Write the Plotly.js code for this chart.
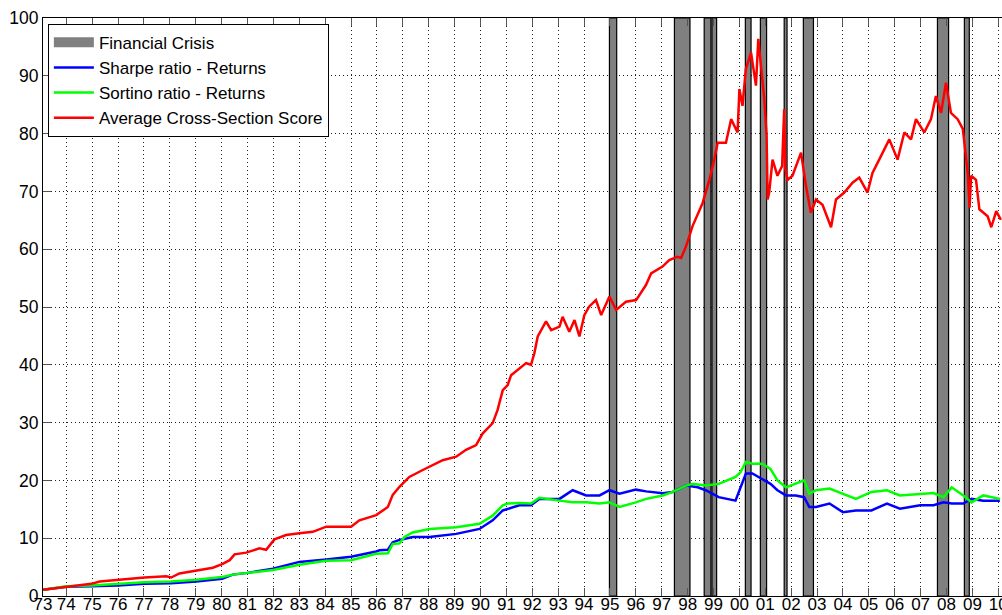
<!DOCTYPE html>
<html>
<head>
<meta charset="utf-8">
<script src="https://cdn.plot.ly/plotly-3.0.1.min.js"></script>
<style>
html,body{margin:0;padding:0;overflow:hidden;background:#fff;}
#chart{width:1039px;height:615px;}
</style>
</head>
<body>
<div id="chart"></div>
<script>
// Crisis periods (fractional years)
const crisisStart = [1994.98, 1997.49, 1998.64, 1998.94, 2000.23, 2000.81, 2001.73, 2002.47, 2007.65, 2008.69];
const crisisEnd   = [1995.26, 1998.09, 1998.90, 1999.12, 2000.45, 2001.05, 2001.84, 2002.86, 2008.08, 2008.88];

// Average Cross-Section Score (red)
const redYears = [1973.10,1974.00,1974.97,1975.29,1975.99,1977.02,1977.86,1978.05,1978.37,1979.02,1979.66,1980.02,1980.31,1980.50,1980.95,1981.46,1981.72,1982.04,1982.49,1983.00,1983.52,1984.04,1985.00,1985.32,1985.97,1986.42,1986.61,1986.87,1987.25,1987.77,1988.03,1988.54,1989.06,1989.44,1989.83,1990.08,1990.47,1990.66,1990.86,1991.05,1991.18,1991.50,1991.76,1991.95,1992.08,1992.21,1992.53,1992.73,1993.05,1993.17,1993.43,1993.63,1993.82,1994.01,1994.20,1994.46,1994.66,1994.98,1995.24,1995.62,1996.01,1996.39,1996.59,1997.03,1997.29,1997.61,1997.75,1997.94,1998.19,1998.58,1998.84,1999.03,1999.16,1999.48,1999.68,1999.93,2000.00,2000.12,2000.25,2000.45,2000.64,2000.73,2000.83,2000.96,2001.05,2001.09,2001.15,2001.28,2001.47,2001.65,2001.73,2001.77,2001.86,2002.05,2002.38,2002.57,2002.76,2002.96,2003.21,2003.54,2003.73,2004.05,2004.37,2004.63,2004.95,2005.14,2005.40,2005.79,2006.11,2006.37,2006.63,2006.82,2007.14,2007.40,2007.59,2007.79,2007.98,2008.17,2008.43,2008.63,2008.82,2008.89,2008.95,2009.14,2009.27,2009.59,2009.73,2009.92,2010.10];
const redValues = [1.1,1.6,2.1,2.5,2.8,3.2,3.4,3.2,3.9,4.4,4.9,5.5,6.2,7.2,7.5,8.25,8.0,9.8,10.55,10.85,11.1,12.0,12.0,13.1,14.0,15.4,17.5,18.9,20.6,21.8,22.4,23.5,24.1,25.3,26.1,28.1,29.9,32.2,35.6,36.5,38.2,39.4,40.3,40.0,42.0,44.9,47.5,46.0,46.6,48.3,45.7,47.75,44.9,48.6,50.1,51.2,48.6,51.8,49.5,50.9,51.2,53.8,55.8,57.0,58.1,58.7,58.5,60.5,64.0,68.0,72.0,75.5,78.4,78.4,82.5,80.2,87.7,84.8,91.2,94.0,88.3,96.4,92.3,86.0,79.6,68.6,69.8,75.5,72.7,74.4,84.2,74.0,72.0,72.7,76.7,71.0,66.3,68.6,67.7,63.8,68.6,69.8,71.5,72.4,69.8,73.2,75.5,79.0,75.5,80.2,79.0,82.5,80.2,82.5,86.5,83.6,88.8,83.6,82.5,80.8,73.2,67.2,72.7,72.0,66.9,65.7,63.8,66.6,65.1];

// Sharpe ratio - Returns (blue)
const blueYears = [1973.10,1974.00,1974.97,1975.99,1977.02,1978.05,1979.02,1980.02,1980.43,1981.00,1981.98,1983.00,1984.04,1985.00,1985.97,1986.10,1986.42,1986.61,1986.87,1987.06,1987.38,1988.03,1989.06,1989.96,1990.47,1990.86,1991.05,1991.50,1991.95,1992.27,1993.05,1993.56,1994.08,1994.60,1994.98,1995.37,1996.00,1996.40,1997.04,1997.42,1997.94,1998.20,1998.39,1998.70,1999.20,1999.85,2000.04,2000.25,2000.50,2000.88,2001.20,2001.47,2001.80,2002.18,2002.50,2002.70,2002.96,2003.48,2004.00,2004.50,2005.10,2005.70,2006.20,2006.98,2007.50,2007.88,2008.20,2008.65,2008.97,2009.42,2010.06];
const blueValues = [1.1,1.6,1.7,1.8,2.1,2.2,2.5,3.0,3.7,4.0,4.7,5.9,6.3,6.8,7.7,7.9,8.0,9.3,9.7,9.9,10.2,10.2,10.75,11.6,13.1,14.8,15.1,15.7,15.7,16.8,16.8,18.3,17.4,17.4,18.3,17.7,18.4,18.1,17.8,18.0,19.1,19.0,18.8,18.3,17.1,16.5,18.8,21.2,21.2,20.3,19.4,18.3,17.4,17.4,17.1,15.4,15.4,16.0,14.5,14.8,14.8,16.0,15.1,15.7,15.7,16.2,16.0,16.0,16.8,16.5,16.5];

// Sortino ratio - Returns (green)
const greenYears = [1973.10,1974.00,1974.97,1975.99,1977.02,1978.05,1979.02,1980.02,1980.43,1981.00,1981.98,1983.00,1984.04,1985.00,1985.97,1986.42,1986.61,1986.87,1987.06,1987.38,1987.83,1988.03,1989.06,1989.96,1990.47,1990.86,1991.05,1991.50,1991.95,1992.27,1993.05,1993.56,1994.08,1994.60,1994.98,1995.37,1996.00,1996.40,1997.04,1997.42,1997.94,1998.20,1998.39,1998.70,1999.20,1999.85,2000.04,2000.25,2000.50,2000.88,2001.20,2001.47,2001.80,2002.18,2002.50,2002.70,2002.96,2003.48,2004.00,2004.50,2005.10,2005.70,2006.20,2006.98,2007.50,2007.88,2008.20,2008.65,2008.97,2009.42,2010.06];
const greenValues = [1.1,1.7,1.8,2.1,2.4,2.5,2.8,3.3,3.7,4.0,4.5,5.4,6.1,6.2,7.3,7.4,9.0,9.1,10.2,11.0,11.4,11.6,11.9,12.5,13.9,15.7,16.0,16.1,16.0,17.0,16.5,16.2,16.2,16.0,16.2,15.4,16.2,16.8,17.4,18.0,19.1,19.4,19.3,19.1,19.4,20.6,21.4,23.2,22.9,22.9,22.0,20.0,18.8,19.4,20.0,17.7,18.3,18.6,17.7,16.8,18.0,18.3,17.4,17.7,17.8,17.1,18.8,17.4,16.2,17.4,16.8];

// Tick labels
const tickYears = [];
const tickLabels = [];
for (let y = 1973; y <= 2010; y++) {
  tickYears.push(y === 1973 ? 1973.1 : y);
  tickLabels.push(String(y % 100).padStart(2, '0'));
}

// Crisis bars as shapes in data coordinates (drawn between grid and traces)
const crisisShapes = crisisStart.map((s, i) => ({
  type: 'rect', xref: 'x', yref: 'y', x0: s, x1: crisisEnd[i], y0: 0, y1: 100,
  fillcolor: '#808080', line: {color: '#000', width: 1.2}, layer: 'between'
}));

const traces = [
  {x: [null], y: [null], type: 'scatter', mode: 'lines', line: {color: '#808080', width: 16},
   name: 'Financial Crisis', hoverinfo: 'skip'},
  {x: blueYears, y: blueValues, type: 'scatter', mode: 'lines', line: {color: '#0000ff', width: 2.5}, name: 'Sharpe ratio - Returns'},
  {x: greenYears, y: greenValues, type: 'scatter', mode: 'lines', line: {color: '#00ff00', width: 2.5}, name: 'Sortino ratio - Returns'},
  {x: redYears, y: redValues, type: 'scatter', mode: 'lines', line: {color: '#ff0000', width: 2.5}, name: 'Average Cross-Section Score'}
];

const layout = {
  width: 1039, height: 615,
  margin: {l: 43, r: 20, t: 18, b: 19},
  paper_bgcolor: '#fff', plot_bgcolor: '#fff',
  font: {family: 'Liberation Sans, Arial, sans-serif', size: 17.5, color: '#000'},
  showlegend: true,
  shapes: crisisShapes,
  legend: {x: 0.005, y: 0.99, xanchor: 'left', yanchor: 'top', bgcolor: '#fff',
           bordercolor: '#000', borderwidth: 1, font: {size: 17, color: '#000'},
           tracegroupgap: 0, itemwidth: 40},
  xaxis: {range: [1973.1, 2010.8], tickmode: 'array', tickvals: tickYears, ticktext: tickLabels,
          showgrid: true, gridcolor: '#222', griddash: '1px,3px', gridwidth: 1,
          showline: true, linecolor: '#000', linewidth: 1, mirror: 'ticks',
          ticks: 'inside', ticklen: 8, tickcolor: '#555', zeroline: false, fixedrange: true,
          ticklabelstandoff: -7, tickfont: {size: 17}},
  yaxis: {range: [0, 100], tickmode: 'array', tickvals: [0,10,20,30,40,50,60,70,80,90,100],
          showgrid: true, gridcolor: '#222', griddash: '1px,3px', gridwidth: 1,
          showline: true, linecolor: '#000', linewidth: 1, mirror: 'ticks',
          ticks: 'inside', ticklen: 8, tickcolor: '#555', zeroline: false, fixedrange: true,
          tickfont: {size: 17.5}}
};

Plotly.newPlot('chart', traces, layout, {displayModeBar: false, staticPlot: true});
</script>
</body>
</html>
